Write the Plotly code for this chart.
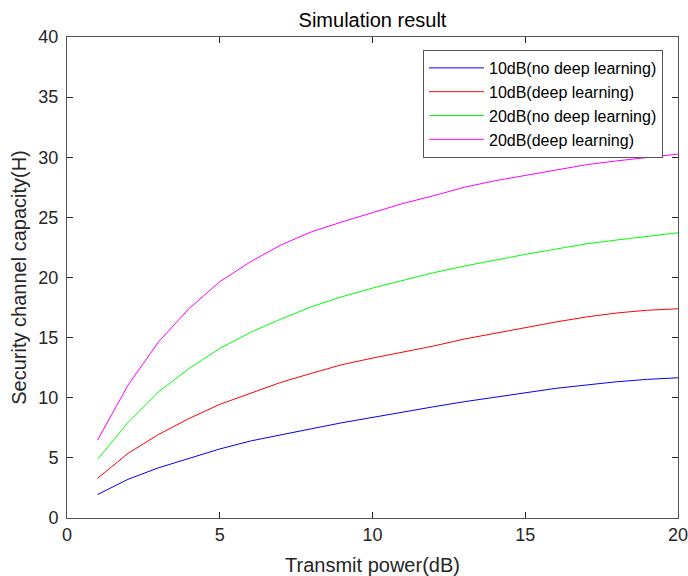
import plotly.graph_objects as go

x_power = list(range(1, 21))
blue_10db_nodl = [1.95, 3.22, 4.18, 4.96, 5.74, 6.40, 6.93, 7.42, 7.92, 8.38, 8.79, 9.25, 9.67, 10.03, 10.42, 10.78, 11.06, 11.33, 11.53, 11.66]
red_10db_dl = [3.30, 5.38, 6.95, 8.28, 9.45, 10.39, 11.28, 12.03, 12.75, 13.30, 13.77, 14.30, 14.88, 15.35, 15.85, 16.30, 16.72, 17.05, 17.28, 17.40]
green_20db_nodl = [4.88, 7.95, 10.50, 12.44, 14.10, 15.43, 16.54, 17.57, 18.40, 19.12, 19.76, 20.40, 20.95, 21.45, 21.92, 22.36, 22.80, 23.12, 23.42, 23.72]
magenta_20db_dl = [6.48, 11.06, 14.66, 17.43, 19.65, 21.30, 22.70, 23.80, 24.62, 25.38, 26.16, 26.80, 27.50, 28.04, 28.50, 28.93, 29.38, 29.70, 29.95, 30.26]

series_names = ["10dB(no deep learning)", "10dB(deep learning)", "20dB(no deep learning)", "20dB(deep learning)"]
series_vals = [blue_10db_nodl, red_10db_dl, green_20db_nodl, magenta_20db_dl]
series_colors = ["#0000ff", "#ff0000", "#00ff00", "#ff00ff"]

x_ticks = [0, 5, 10, 15, 20]
y_ticks = [0, 5, 10, 15, 20, 25, 30, 35, 40]

font_family = "Liberation Sans, Arial, sans-serif"

fig = go.Figure()
for name, vals, col in zip(series_names, series_vals, series_colors):
    fig.add_trace(go.Scatter(x=x_power, y=vals, mode="lines", name=name,
                             line=dict(color=col, width=1)))

axis_common = dict(
    showline=True, linecolor="#555555", linewidth=1, mirror="ticks",
    ticks="inside", ticklen=6, tickcolor="#262626", tickwidth=1,
    showgrid=False, zeroline=False, automargin=False,
    ticklabeloverflow="allow",
    tickfont=dict(family=font_family, size=18, color="#262626"),
)

fig.update_layout(
    width=688, height=576,
    paper_bgcolor="white", plot_bgcolor="white",
    margin=dict(l=67, r=10, t=37, b=58),
    title=dict(text="Simulation result", x=(67 + 678) / 2 / 688, xanchor="center",
               y=1 - 20 / 576, yanchor="middle",
               font=dict(family=font_family, size=20, color="black")),
    xaxis=dict(range=[0, 20], tickvals=x_ticks, ticktext=[str(t) for t in x_ticks],
               title=dict(text="Transmit power(dB)", standoff=14,
                          font=dict(family=font_family, size=20, color="#262626")),
               **axis_common),
    yaxis=dict(range=[0, 40], tickvals=y_ticks, ticktext=[str(t) for t in y_ticks],
               ticklabelstandoff=4,
               title=dict(text="Security channel capacity(H)", standoff=6,
                          font=dict(family=font_family, size=20, color="#262626")),
               **axis_common),
    legend=dict(x=(663 - 67) / 611, y=(518 - 50) / 481, xanchor="right", yanchor="top",
                bgcolor="white", bordercolor="#555555", borderwidth=1,
                font=dict(family=font_family, size=16, color="black"),
                tracegroupgap=0, itemwidth=55),
    showlegend=True,
)

fig.write_html("out.html", config={"displayModeBar": False},
               post_script="document.body.style.margin='0';document.body.style.overflow='hidden';")
